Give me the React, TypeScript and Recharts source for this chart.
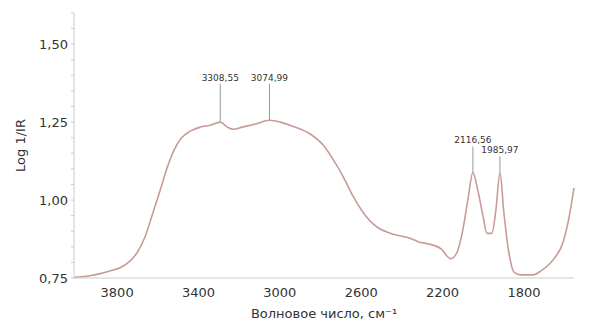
import React from 'react';
import { LineChart, Line, XAxis, YAxis, ReferenceLine } from 'recharts';

// wavenumber (cm-1) and absorbance
const waveNumbers = [
  4012, 3933, 3884, 3835, 3785, 3736, 3702, 3662, 3628, 3588, 3554, 3519, 3485, 3441, 3391, 3342,
  3293, 3258, 3229, 3184, 3120, 3051, 2997, 2938, 2849, 2785, 2736, 2687, 2638, 2588, 2519, 2455,
  2357, 2308, 2273, 2209, 2160, 2130, 2101, 2076, 2051, 2027, 2002, 1982, 1958, 1938, 1918, 1899,
  1874, 1849, 1815, 1756, 1716, 1652, 1608, 1583, 1554,
];
const absorbance = [
  0.752, 0.757, 0.764, 0.773, 0.783, 0.805, 0.831, 0.883, 0.951, 1.032, 1.104, 1.162, 1.198, 1.221, 1.234, 1.24,
  1.25, 1.234, 1.227, 1.234, 1.244, 1.256, 1.25, 1.237, 1.211, 1.175, 1.128, 1.073, 1.01, 0.958, 0.912, 0.893,
  0.877, 0.864, 0.86, 0.844, 0.812, 0.831, 0.903, 1.0, 1.088, 1.032, 0.951, 0.893, 0.893, 0.968, 1.088, 0.961,
  0.831, 0.769, 0.76, 0.76, 0.773, 0.812, 0.864, 0.929, 1.039,
];

const xTicks = [3800, 3400, 3000, 2600, 2200, 1800];
const yTicks = [0.75, 0.8, 0.85, 0.9, 0.95, 1.0, 1.05, 1.1, 1.15, 1.2, 1.25, 1.3, 1.35, 1.4, 1.45, 1.5, 1.55, 1.6];

// peak markers
const peakWave = [3293, 3051, 2051, 1918];
const peakAbs = [1.25, 1.256, 1.088, 1.088];
const peakTop = [1.373, 1.373, 1.172, 1.14];
const peakText = ['3308,55', '3074,99', '2116,56', '1985,97'];

const data = waveNumbers.map((w, i) => ({ w, a: absorbance[i] }));

const fmtY = (v: number) => {
  const r = Math.round(v * 100);
  return r % 25 === 0 ? (r / 100).toFixed(2).replace('.', ',') : '';
};

export default function App() {
  return (
    <div style={{ position: 'absolute', left: 0, top: 0, width: 600, height: 331, background: '#fff' }}>
      <LineChart
        width={600}
        height={331}
        data={data}
        margin={{ top: 13, right: 26, bottom: 13, left: 20 }}
        style={{ fontFamily: 'DejaVu Sans, sans-serif' }}
      >
        <XAxis
          dataKey="w"
          type="number"
          domain={[1554, 4012]}
          reversed
          ticks={xTicks}
          height={40}
          tickLine={false}
          tickSize={6}
          tickMargin={4}
          stroke="#cccccc"
          tick={{ fill: '#333', fontSize: 13 }}
          label={{ value: 'Волновое число, см⁻¹', position: 'insideBottom', offset: 0, fill: '#333', fontSize: 13 }}
        />
        <YAxis
          type="number"
          domain={[0.75, 1.6]}
          ticks={yTicks}
          interval={0}
          width={54}
          tickSize={3}
          tickMargin={3}
          stroke="#cccccc"
          tickFormatter={fmtY}
          tick={{ fill: '#333', fontSize: 13 }}
          label={{ value: 'Log 1/IR', angle: -90, position: 'insideLeft', offset: 0, fill: '#333', fontSize: 13, style: { textAnchor: 'middle' } }}
        />
        {peakWave.map((w, i) => (
          <ReferenceLine
            key={i}
            segment={[{ x: w, y: peakAbs[i] }, { x: w, y: peakTop[i] }]}
            stroke="#9a9a9a"
            strokeWidth={1}
            label={{ value: peakText[i], position: 'top', offset: 3, fill: '#333', fontSize: 9 }}
          />
        ))}
        <Line
          type="monotone"
          dataKey="a"
          stroke="#c99a96"
          strokeWidth={1.6}
          dot={false}
          isAnimationActive={false}
        />
      </LineChart>
    </div>
  );
}
